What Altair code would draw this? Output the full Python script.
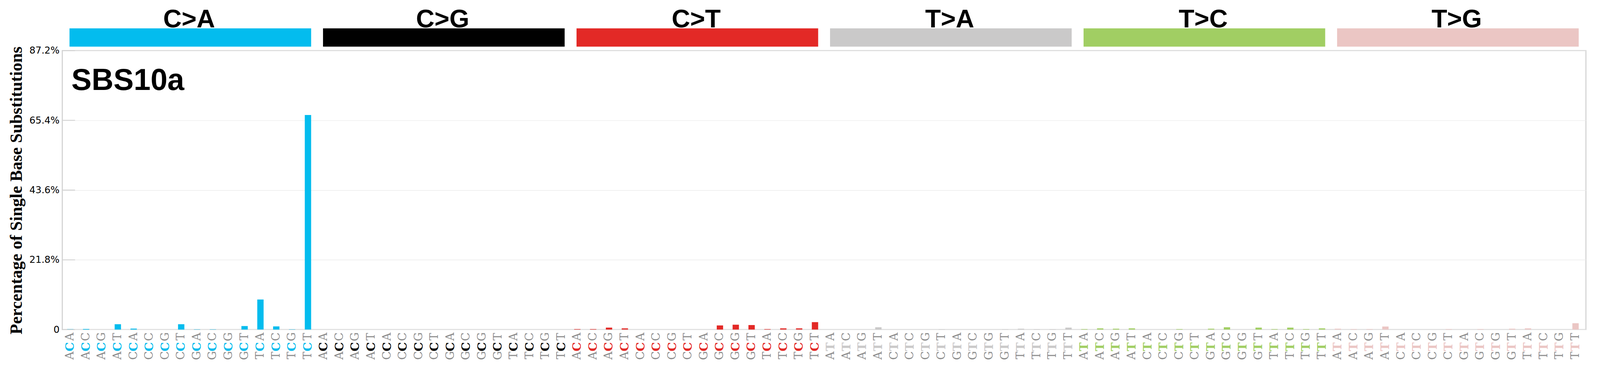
import altair as alt
import pandas as pd

# SBS96 profile, percentages
signature = "SBS10a"
mutation_types = ["C>A", "C>G", "C>T", "T>A", "T>C", "T>G"]
type_colors = ["#03BCEE", "#010101", "#E32926", "#CAC9C9", "#A1CE63", "#EBC6C4"]
bases = ["A", "C", "G", "T"]

ca_pct = [0.19, 0.19, 0, 1.67, 0.30, 0, 0, 1.67, 0.08, 0.08, 0, 1.10, 9.4, 0.99, 0.08, 67.08]
cg_pct = [0, 0, 0, 0, 0, 0, 0, 0, 0, 0, 0, 0, 0, 0, 0, 0]
ct_pct = [0.15, 0.15, 0.61, 0.38, 0, 0, 0, 0, 0, 1.29, 1.52, 1.41, 0.15, 0.38, 0.38, 2.32]
ta_pct = [0, 0, 0, 0.72, 0, 0, 0, 0.08, 0, 0, 0, 0.08, 0.27, 0.1, 0.1, 0.61]
tc_pct = [0.15, 0.38, 0.27, 0.38, 0, 0, 0.15, 0, 0.27, 0.72, 0, 0.61, 0.15, 0.61, 0.15, 0.38]
tg_pct = [0.27, 0.15, 0.15, 0.95, 0, 0, 0, 0.15, 0, 0.15, 0, 0.27, 0.38, 0, 0, 1.98]

y_ticks = [0, 21.8, 43.6, 65.4, 87.2]

rows = []
for g, (mt, vals) in enumerate(zip(mutation_types, [ca_pct, cg_pct, ct_pct, ta_pct, tc_pct, tg_pct])):
    k = 0
    for b5 in bases:
        for b3 in bases:
            rows.append({"i": 16 * g + k, "mut": mt, "five": b5, "ref": mt[0],
                         "three": b3, "pct": vals[k]})
            k += 1
df = pd.DataFrame(rows)
groups = pd.DataFrame({"mut": mutation_types, "g": list(range(6))})
ticks_df = pd.DataFrame({"tick": y_ticks})
name_df = pd.DataFrame({"name": [signature]})

x_scale = alt.Scale(domain=[-0.391, 95.54], nice=False, zero=False)
y_scale = alt.Scale(domain=[0, 87.2], nice=False)
color = alt.Color("mut:N", scale=alt.Scale(domain=mutation_types, range=type_colors), legend=None)

bars = alt.Chart(df).mark_bar(orient="vertical").transform_calculate(
    x0="datum.i - 0.2", x1="datum.i + 0.2"
).encode(
    x=alt.X("x0:Q", scale=x_scale, axis=None),
    x2="x1:Q",
    y=alt.Y("pct:Q", scale=y_scale,
            axis=alt.Axis(values=y_ticks, ticks=False, domain=False, grid=True,
                          gridColor="#ebebeb", gridWidth=1.5,
                          labelExpr="datum.value == 0 ? '0' : format(datum.value, '.1f') + '%'",
                          labelFont="DejaVu Sans", labelFontSize=26, labelColor="#000000",
                          labelPadding=8, labelFlush=False, labelOverlap=False,
                          title="Percentage of Single Base Substitutions",
                          titleFont="Liberation Serif", titleFontSize=47, titleFontWeight="bold",
                          titleColor="#000000", titleAngle=270, titleX=-111, titleY=382,
                          titleAlign="center", titleBaseline="alphabetic")),
    y2=alt.datum(0),
    color=color,
)

# short ticks that point into the plot
inner_ticks = alt.Chart(ticks_df).mark_rule(color="#d3d3d3", strokeWidth=2.5).encode(
    y=alt.Y("tick:Q", scale=y_scale),
    x=alt.value(0),
    x2=alt.value(35),
)

boxes = alt.Chart(groups).mark_rect().transform_calculate(
    gx0="datum.g * 16 - 0.05", gx1="datum.g * 16 + 15.2"
).encode(
    x=alt.X("gx0:Q", scale=x_scale, axis=None),
    x2="gx1:Q",
    y=alt.value(-61),
    y2=alt.value(-11),
    color=color,
)

heads = alt.Chart(groups).mark_text(
    font="Liberation Sans", fontSize=70, fontWeight="bold", color="#000000",
    align="center", baseline="alphabetic"
).transform_calculate(gm="datum.g * 16 + 7.5").encode(
    x=alt.X("gm:Q", scale=x_scale, axis=None),
    y=alt.value(-64),
    text="mut:N",
)

three_l = alt.Chart(df).mark_text(
    font="DejaVu Serif", fontSize=31, color="#8c8c8c", angle=270,
    align="center", baseline="middle"
).encode(x=alt.X("i:Q", scale=x_scale, axis=None), y=alt.value(782.5), text="three:N")

ref_l = alt.Chart(df).mark_text(
    font="DejaVu Serif", fontSize=32, fontWeight="bold", angle=270,
    align="center", baseline="middle"
).encode(x=alt.X("i:Q", scale=x_scale, axis=None), y=alt.value(810), text="ref:N", color=color)

five_l = alt.Chart(df).mark_text(
    font="DejaVu Serif", fontSize=31, color="#8c8c8c", angle=270,
    align="center", baseline="middle"
).encode(x=alt.X("i:Q", scale=x_scale, axis=None), y=alt.value(834), text="five:N")

name = alt.Chart(name_df).mark_text(
    font="Liberation Sans", fontSize=83, fontWeight="bold", color="#000000",
    align="left", baseline="alphabetic"
).encode(x=alt.value(25), y=alt.value(108), text="name:N")

chart = alt.layer(
    bars, inner_ticks, boxes, heads, three_l, ref_l, five_l, name
).properties(
    width=4173, height=763,
    padding={"left": 162, "top": 98, "right": 30, "bottom": 52},
    autosize=alt.AutoSizeParams(type="none"),
    background="#ffffff",
).configure_view(stroke="#d3d3d3", strokeWidth=3)

chart.save("out.html", embed_options={"renderer": "svg", "actions": False})
